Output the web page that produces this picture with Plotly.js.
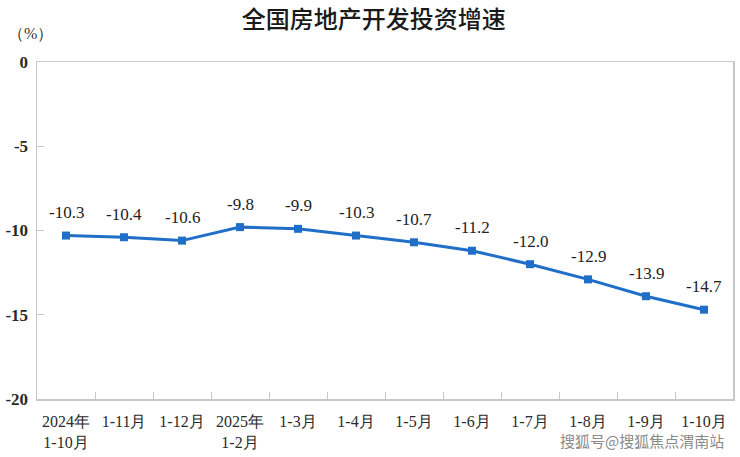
<!DOCTYPE html>
<html><head><meta charset="utf-8">
<script src="https://cdn.plot.ly/plotly-3.0.1.min.js"></script>
<style>html,body{margin:0;padding:0;background:#fff;}#chart{width:740px;height:457px;}</style>
</head><body><div id="chart"></div>
<script>
const categories = ["2024年<br>1-10月","1-11月","1-12月","2025年<br>1-2月","1-3月","1-4月","1-5月","1-6月","1-7月","1-8月","1-9月","1-10月"];
const growth = [-10.3,-10.4,-10.6,-9.8,-9.9,-10.3,-10.7,-11.2,-12.0,-12.9,-13.9,-14.7];
const yTicks = [0,-5,-10,-15,-20];

const serif = "Liberation Serif, Times New Roman, serif";
const lineColor = "#1f6fc8";

const trace = {
  x: categories, y: growth, type: "scatter", mode: "lines+markers",
  line: {color: lineColor, width: 3},
  marker: {symbol: "square", size: 8, color: lineColor},
  hoverinfo: "skip"
};

const labelAnns = categories.map((c, i) => ({
  x: c, y: growth[i], xref: "x", yref: "y",
  text: growth[i].toFixed(1), showarrow: false, yshift: 23,
  font: {family: serif, size: 17, color: "#222"}
}));

const layout = {
  width: 740, height: 457,
  margin: {l: 37, r: 7, t: 62, b: 58},
  paper_bgcolor: "#fff", plot_bgcolor: "#fff",
  showlegend: false,
  title: {text: "全国房地产开发投资增速", x: 0.505, xanchor: "center", y: 0.958, yanchor: "middle",
          font: {family: "Noto Sans CJK SC", size: 24, weight: 500, color: "#1a1a1a"}},
  xaxis: {
    type: "category", range: [-0.5, categories.length - 0.5], tickangle: 0,
    tickson: "boundaries", ticks: "inside", ticklen: 7, tickcolor: "#c8c8c8",
    showline: true, linecolor: "#c8c8c8", linewidth: 1.5, mirror: true, showgrid: false,
    automargin: false, ticklabelstandoff: 7,
    tickfont: {family: serif, size: 16, color: "#2a2a2a"}, fixedrange: true
  },
  yaxis: {
    range: [-20, 0], tickvals: yTicks, ticktext: yTicks.map(String), ticks: "inside", ticklen: 7,
    tickcolor: "#c8c8c8", showline: true, linecolor: "#c8c8c8", linewidth: 1.5, mirror: true,
    showgrid: false, zeroline: false, automargin: false, ticklabelstandoff: 4,
    tickfont: {family: serif, size: 17, weight: "bold", color: "#2a2a2a"}, fixedrange: true
  },
  annotations: labelAnns.concat([
    {text: "（%）", xref: "paper", yref: "paper", x: -0.045, y: 1.085, xanchor: "left", yanchor: "middle",
     showarrow: false, font: {family: serif, size: 16, color: "#333"}},
    {text: "搜狐号@搜狐焦点渭南站", xref: "paper", yref: "paper", x: 0.99, y: -0.122, xanchor: "right", yanchor: "middle",
     showarrow: false, font: {family: "Noto Sans CJK SC", size: 15, color: "#8a8a8a"}}
  ])
};

Plotly.newPlot("chart", [trace], layout, {staticPlot: true, displayModeBar: false});
</script></body></html>
